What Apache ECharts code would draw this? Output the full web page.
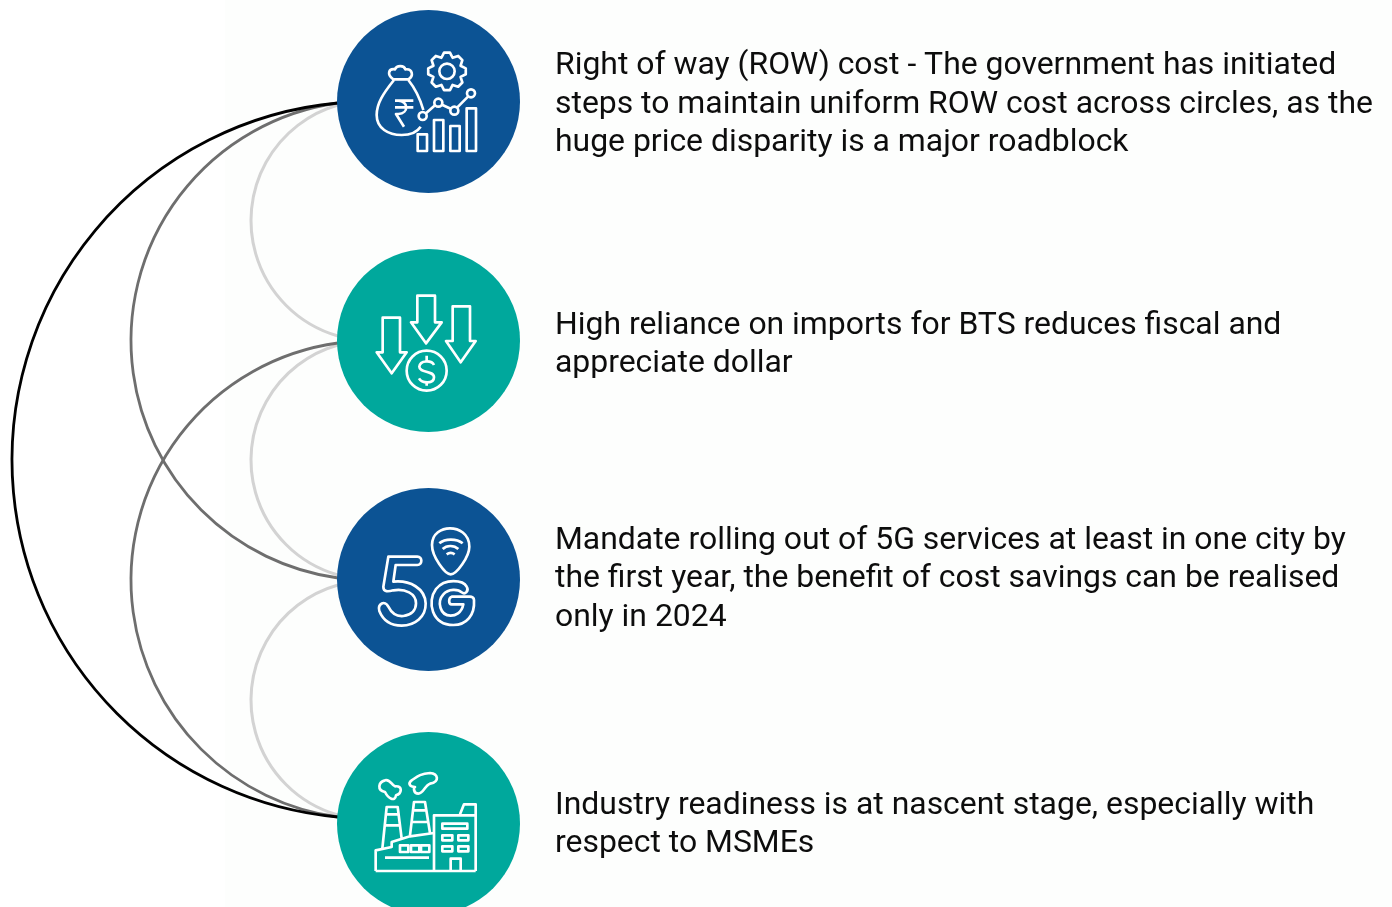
<!DOCTYPE html>
<html>
<head>
<meta charset="utf-8">
<title>Rollout challenges</title>
<script src="https://cdn.jsdelivr.net/npm/echarts@6/dist/echarts.min.js"></script>
<style>
  html, body { margin: 0; padding: 0; background: #fff; }
  #myChart { width: 1392px; height: 907px; }
</style>
</head>
<body>
<div id="myChart"></div>
<script>
let myChart = echarts.init(document.getElementById('myChart'));

// rows (axis units are pixels of the reference)
const nodeX = [428.5, 428.5, 428.5, 428.5];
const nodeY = [101.5, 340.5, 579.5, 823.5];
const nodeIcons = ['money', 'imports', 'fiveG', 'factory'];
const textX = [555, 555, 555, 555];
const textY = [105, 345, 579.5, 825];
const textLines = [
  'Right of way (ROW) cost - The government has initiated\nsteps to maintain uniform ROW cost across circles, as the\nhuge price disparity is a major roadblock',
  'High reliance on imports for BTS reduces fiscal and\nappreciate dollar',
  'Mandate rolling out of 5G services at least in one city by\nthe first year, the benefit of cost savings can be realised\nonly in 2024',
  'Industry readiness is at nascent stage, especially with\nrespect to MSMEs',
];

// connector arcs, drawn light first so black ends on top
const arcTop = [105, 345, 585, 103, 343, 103];
const arcBottom = [336, 575, 815, 578, 817, 817];
const arcLeft = [251, 251, 251, 131, 131, 12];
const arcLevel = [0, 0, 0, 1, 1, 2];
const arcRootX = 338;

const arcColors = ['#d3d3d3', '#6e6e6e', '#000000'];
const arcWidths = [3, 2.8, 2.8];
const nodeColors = ['#0c5394', '#00a89c'];

function ring(cx, cy, r) {
  return `M${cx - r},${cy}a${r},${r} 0 1,0 ${2 * r},0a${r},${r} 0 1,0 ${-2 * r},0Z`;
}

function box(x, y, w, h) {
  return `M${x},${y}h${w}v${h}h${-w}Z`;
}

function gear(cx, cy, rOut, rIn, teeth) {
  let d = '';
  const step = (Math.PI * 2) / teeth;
  for (let i = 0; i < teeth; i++) {
    const a = i * step;
    const pts = [
      [rIn, a - step * 0.5],
      [rOut, a - step * 0.2],
      [rOut, a + step * 0.2],
    ];
    pts.forEach(function (p, j) {
      const x = (cx + p[0] * Math.cos(p[1])).toFixed(1);
      const y = (cy + p[0] * Math.sin(p[1])).toFixed(1);
      d += (i === 0 && j === 0 ? 'M' : 'L') + x + ',' + y;
    });
  }
  return d + 'Z';
}

// icon outlines, written in 3x zoomed crop coords, origin is the crop corner
const icons = {
  money: {
    origin: [-98.5, -101.5],
    paths: [
      'M190,238C170,225 175,205 195,208C200,195 222,195 226,208C248,205 252,228 235,238Z',
      'M192,240C160,280 140,310 140,345C140,385 175,405 215,405C240,405 262,395 272,380',
      'M235,240C255,265 270,295 280,330',
      'M195,302L250,302M195,322L250,322M205,302C235,302 238,340 205,342L198,342L222,380',
      ring(278, 348, 12), ring(325, 308, 12), ring(373, 332, 12), ring(423, 280, 12),
      'M288,340L315,316M336,314L362,326M382,322L414,290',
      box(263, 403, 28, 50), box(312, 360, 28, 93), box(361, 378, 28, 75), box(410, 325, 28, 128),
      gear(351, 214, 57, 44, 8), ring(351, 214, 23),
    ],
  },
  imports: {
    origin: [-98.5, -95.5],
    paths: [
      'M158,218L210,218L210,322L230,322L185,385L140,322L158,322Z',
      'M262,152L315,152L315,232L335,232L288,295L243,232L262,232Z',
      'M368,184L420,184L420,288L437,288L392,352L348,288L368,288Z',
      ring(290, 377, 60),
      'M312,360C305,345 270,345 268,365C268,385 312,375 312,397C312,418 275,415 267,400',
      'M290,332L290,348M290,408L290,422',
    ],
  },
  fiveG: {
    origin: [-98.5, -94.5],
    paths: [
      'M175,215L262,215C278,215 278,240 262,240L197,240L190,290C240,285 285,310 287,355C288,395 255,422 215,422C185,422 160,408 148,378C142,355 165,345 175,365C185,385 200,395 220,393C245,390 258,375 258,355C258,325 225,310 190,316C175,320 160,322 160,305Z',
      'M410,305C400,285 345,278 318,312C290,350 305,420 370,420C410,420 435,390 432,345C432,338 425,335 420,335L365,335C355,338 355,358 365,358L400,358C395,385 375,392 362,392C330,392 320,350 340,328C355,310 385,312 395,322C405,330 418,318 410,305Z',
      'M360,130C385,130 418,145 418,185C418,215 380,268 362,268C345,268 306,215 306,180C306,145 335,130 360,130Z',
      'M328,175C345,160 380,160 398,175M338,192C350,180 372,180 385,192M350,208C358,202 366,202 374,208',
    ],
  },
  factory: {
    origin: [-98.5, -96.5],
    paths: [
      'M137,432L137,370L185,360L185,345L240,328L312,318',
      'M137,432L437,432',
      'M312,432L312,265L437,265L437,432',
      'M390,262L402,232L437,232L437,265',
      box(337, 290, 75, 15), box(337, 325, 30, 15), box(385, 325, 30, 15), box(337, 358, 30, 15), box(385, 358, 30, 15),
      'M362,432L362,395L392,395L392,432',
      box(210, 355, 25, 20), box(243, 355, 25, 20), box(273, 355, 25, 20),
      'M165,392L297,392',
      'M157,365L170,240L203,240L215,335M166,295L208,295M170,262L205,262',
      'M240,325L252,225L285,225L300,318M248,285L292,285M252,250L287,250',
      'M165,160C145,165 140,190 165,195C175,215 195,225 198,205C215,200 220,175 195,178C185,175 180,155 165,160Z',
      'M245,160C260,150 270,140 300,138C325,140 330,165 300,170C285,175 280,200 265,200C250,200 250,180 255,180C240,180 232,170 245,160Z',
    ],
  },
};

// circular arc through both ends and the leftmost point
function renderArc(params, api) {
  const top = api.coord([arcRootX, api.value(0)]);
  const bottom = api.coord([arcRootX, api.value(1)]);
  const left = api.coord([api.value(2), api.value(0)]);
  const level = api.value(3);
  const s = top[0] - left[0];
  const h = (bottom[1] - top[1]) / 2;
  const r = (h * h + s * s) / (2 * s);
  return {
    type: 'path',
    shape: {
      pathData: `M${top[0]},${top[1]}A${r},${r} 0 0,0 ${bottom[0]},${bottom[1]}`,
    },
    style: { fill: 'none', stroke: arcColors[level], lineWidth: arcWidths[level] },
  };
}

function renderNode(params, api) {
  const c = api.coord([api.value(0), api.value(1)]);
  const icon = icons[nodeIcons[params.dataIndex]];
  return {
    type: 'group',
    x: c[0],
    y: c[1],
    children: [
      {
        type: 'circle',
        shape: { cx: 0, cy: 0, r: 91.5 },
        style: { fill: nodeColors[params.dataIndex % 2] },
      },
      {
        type: 'group',
        x: icon.origin[0],
        y: icon.origin[1],
        scaleX: 1 / 3,
        scaleY: 1 / 3,
        children: icon.paths.map(function (d) {
          return {
            type: 'path',
            shape: { pathData: d },
            style: { fill: 'none', stroke: '#ffffff', lineWidth: 8, lineJoin: 'round' },
          };
        }),
      },
    ],
  };
}

function renderText(params, api) {
  const c = api.coord([api.value(0), api.value(1)]);
  return {
    type: 'text',
    x: c[0],
    y: c[1],
    style: {
      text: textLines[params.dataIndex],
      fill: '#0d0d0d',
      font: '400 31.92px Roboto',
      lineHeight: 38.5,
      align: 'left',
      verticalAlign: 'middle',
    },
  };
}

let myChartOption = {
  backgroundColor: '#ffffff',
  animation: false,
  grid: { left: 0, top: 0, right: 0, bottom: 0 },
  xAxis: { type: 'value', min: 0, max: 1392, show: false },
  yAxis: { type: 'value', min: 0, max: 907, inverse: true, show: false },
  graphic: [
    {
      type: 'rect',
      shape: { x: 225, y: 0, width: 1167, height: 907 },
      style: { fill: '#fdfefd' },
      silent: true,
      z: 0,
    },
  ],
  series: [
    {
      type: 'custom',
      name: 'arcs',
      clip: true,
      renderItem: renderArc,
      data: arcTop.map(function (t, i) {
        return [t, arcBottom[i], arcLeft[i], arcLevel[i]];
      }),
      encode: { x: 2, y: [0, 1] },
      z: 2,
    },
    {
      type: 'custom',
      name: 'nodes',
      clip: true,
      renderItem: renderNode,
      data: nodeX.map(function (x, i) {
        return [x, nodeY[i]];
      }),
      z: 3,
    },
    {
      type: 'custom',
      name: 'texts',
      renderItem: renderText,
      data: textX.map(function (x, i) {
        return [x, textY[i]];
      }),
      z: 4,
    },
  ],
};

myChart.setOption(myChartOption);
</script>
</body>
</html>
